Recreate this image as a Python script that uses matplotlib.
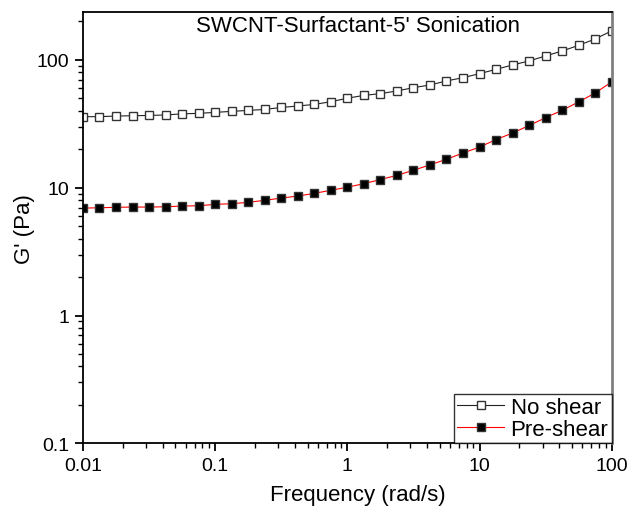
import numpy as np
import matplotlib
matplotlib.use("Agg")
import matplotlib.pyplot as plt
from matplotlib.ticker import LogLocator, FixedLocator, FixedFormatter, NullFormatter

plt.rcParams['font.family'] = ['Liberation Sans', 'DejaVu Sans']

# Frequency points (rad/s), 8 per decade
freq = [0.01, 0.0133, 0.0178, 0.0237, 0.0316, 0.0422, 0.0562, 0.075,
        0.1, 0.133, 0.178, 0.237, 0.316, 0.422, 0.562, 0.75,
        1.0, 1.33, 1.78, 2.37, 3.16, 4.22, 5.62, 7.5,
        10.0, 13.3, 17.8, 23.7, 31.6, 42.2, 56.2, 75.0, 100.0]

no_shear = [36.0, 36.0, 36.4, 36.6, 36.8, 37.1, 37.9, 38.2,
            38.9, 39.6, 40.3, 41.0, 42.5, 43.6, 44.9, 47.1,
            50.2, 52.8, 54.5, 57.2, 60.7, 63.7, 68.5, 72.7,
            78.1, 84.4, 91.4, 98.2, 107.5, 117.5, 130.1, 146.0, 169.0]

pre_shear = [6.93, 6.97, 7.03, 7.06, 7.06, 7.10, 7.19, 7.23,
             7.41, 7.50, 7.69, 7.97, 8.30, 8.61, 9.04, 9.55,
             10.1, 10.75, 11.6, 12.5, 13.7, 15.1, 16.7, 18.7,
             20.8, 23.8, 26.8, 30.7, 35.3, 40.4, 46.9, 55.2, 67.3]

x_ticks = [0.01, 0.1, 1, 10, 100]
x_labels = ["0.01", "0.1", "1", "10", "100"]
y_ticks = [0.1, 1, 10, 100]
y_labels = ["0.1", "1", "10", "100"]

title = "SWCNT-Surfactant-5' Sonication"

fig = plt.figure(figsize=(6.31, 5.10), dpi=100)
ax = fig.add_axes([0.1315, 0.1288, 0.9694 - 0.1315, 0.9739 - 0.1288])

ax.plot(freq, no_shear, '-', color='#222222', lw=0.8, marker='s', ms=5.6,
        mfc='white', mec='#333333', mew=1.0, label='No shear')
ax.plot(freq, pre_shear, '-', color='red', lw=0.8, marker='s', ms=5.6,
        mfc='black', mec='#333333', mew=1.0, label='Pre-shear')

ax.set_xscale('log')
ax.set_yscale('log')
ax.set_xlim(0.01, 100)
ax.set_ylim(0.1, 236)

ax.xaxis.set_major_locator(FixedLocator(x_ticks))
ax.xaxis.set_major_formatter(FixedFormatter(x_labels))
ax.yaxis.set_major_locator(FixedLocator(y_ticks))
ax.yaxis.set_major_formatter(FixedFormatter(y_labels))
ax.xaxis.set_minor_locator(LogLocator(base=10, subs=np.arange(2, 10), numticks=20))
ax.yaxis.set_minor_locator(LogLocator(base=10, subs=np.arange(2, 10), numticks=20))
ax.xaxis.set_minor_formatter(NullFormatter())
ax.yaxis.set_minor_formatter(NullFormatter())

ax.tick_params(which='major', direction='out', length=6, width=1.3, labelsize=14,
               top=False, right=False, pad=4)
ax.tick_params(which='minor', direction='out', length=3.5, width=1.0,
               top=False, right=False)

for s in ['left', 'bottom', 'top']:
    ax.spines[s].set_linewidth(1.3)
    ax.spines[s].set_color('black')
ax.spines['right'].set_linewidth(2.0)
ax.spines['right'].set_color('#808080')

ax.set_xlabel("Frequency (rad/s)", fontsize=16, labelpad=7, x=0.52)
ax.set_ylabel("G' (Pa)", fontsize=16, labelpad=1)

ax.text(0.521, 0.993, title, transform=ax.transAxes, ha='center', va='top',
        fontsize=16)

leg = ax.legend(loc='lower right', fontsize=16, frameon=True, fancybox=False,
                borderaxespad=0, handlelength=2.1, handletextpad=0.3,
                borderpad=0.15, labelspacing=0.05)
leg.get_frame().set_edgecolor('black')
leg.get_frame().set_linewidth(1.0)

fig.savefig("out.png", dpi=100)
